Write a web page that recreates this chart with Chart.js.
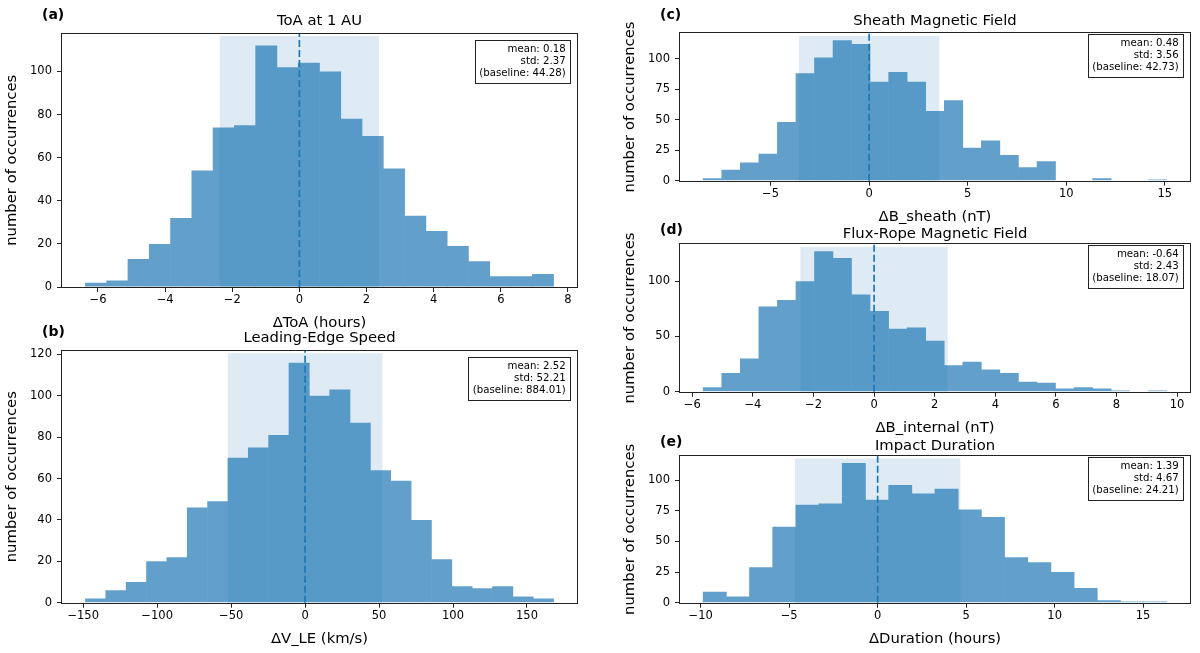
<!DOCTYPE html>
<html>
<head>
<meta charset="utf-8">
<script src="https://cdn.jsdelivr.net/npm/chart.js@4.4.1/dist/chart.umd.min.js"></script>
<style>
html,body{margin:0;padding:0;background:#fff;overflow:hidden;}
body{width:1200px;height:653px;position:relative;font-family:"DejaVu Sans",sans-serif;}
.lbl{position:absolute;font:bold 14px "DejaVu Sans",sans-serif;line-height:16px;color:#000;white-space:nowrap;}
</style>
</head>
<body>
<script>
// ---------- data ----------
// (a) ToA at 1 AU
const toaEdges = [-6.375,-5.741,-5.107,-4.473,-3.839,-3.205,-2.571,-1.937,-1.303,-0.669,-0.035,0.599,1.233,1.867,2.501,3.135,3.769,4.403,5.037,5.671,6.305,6.939,7.573];
const toaCounts = [2,3,13,20,32,54,74,75,112,102,104,100,78,70,55,33,26,19,12,5,5,6];
const toaXTicks = [-6,-4,-2,0,2,4,6,8];
const toaYTicks = [0,20,40,60,80,100];
const toaStd = 2.37;
const toaStats = ['mean: 0.18','std: 2.37','(baseline: 44.28)'];

// (b) Leading-Edge Speed
const speedEdges = [-148.5,-134.74,-120.98,-107.22,-93.46,-79.7,-65.94,-52.18,-38.42,-24.66,-10.9,2.86,16.62,30.38,44.14,57.9,71.66,85.42,99.18,112.94,126.7,140.46,154.22,167.98];
const speedCounts = [2,6,10,20,22,46,49,70,75,81,116,100,103,87,64,59,40,21,8,7,8,3,2];
const speedXTicks = [-150,-100,-50,0,50,100,150];
const speedYTicks = [0,20,40,60,80,100,120];
const speedStd = 52.21;
const speedStats = ['mean: 2.52','std: 52.21','(baseline: 884.01)'];

// (c) Sheath Magnetic Field
const sheathEdges = [-8.42,-7.479,-6.538,-5.597,-4.656,-3.715,-2.774,-1.833,-0.892,0.049,0.99,1.931,2.872,3.813,4.754,5.695,6.636,7.577,8.518,9.459,10.4,11.341,12.282,13.223,14.164,15.105];
const sheathCounts = [2,9,15,22,48,88,101,115,112,81,89,81,57,66,27,33,21,11,16,0,0,2,0,0,1];
const sheathXTicks = [-5,0,5,10,15];
const sheathYTicks = [0,25,50,75,100];
const sheathStd = 3.56;
const sheathStats = ['mean: 0.48','std: 3.56','(baseline: 42.73)'];

// (d) Flux-Rope Magnetic Field
const fluxEdges = [-5.64,-5.028,-4.416,-3.804,-3.192,-2.58,-1.968,-1.356,-0.744,-0.132,0.48,1.092,1.704,2.316,2.928,3.54,4.152,4.764,5.376,5.988,6.6,7.212,7.824,8.436,9.048,9.66];
const fluxCounts = [4,17,30,77,83,100,127,121,88,73,57,58,46,24,27,20,17,9,8,3,4,3,1,0,1];
const fluxXTicks = [-6,-4,-2,0,2,4,6,8,10];
const fluxYTicks = [0,50,100];
const fluxStd = 2.43;
const fluxStats = ['mean: -0.64','std: 2.43','(baseline: 18.07)'];

// (e) Impact Duration
const durEdges = [-9.86,-8.55,-7.24,-5.93,-4.62,-3.31,-2.0,-0.69,0.62,1.93,3.24,4.55,5.86,7.17,8.48,9.79,11.1,12.41,13.72,15.03,16.34];
const durCounts = [9,5,29,62,80,81,114,84,96,89,93,76,70,37,33,25,12,2,1,1];
const durXTicks = [-10,-5,0,5,10,15];
const durYTicks = [0,25,50,75,100];
const durStd = 4.67;
const durStats = ['mean: 1.39','std: 4.67','(baseline: 24.21)'];

// ---------- layout / style ----------
const FONT = '"DejaVu Sans", sans-serif';
const LBL = 14.8, LH = LBL * 1.2;
const YW = 62, XH = 48.9, RP = 8;
const BAR = '#62a0cb';
const SPAN = 'rgba(31,119,180,0.15)';
const LINE = '#1f77b4';
const AXC = '#222';

const panels = [
  {letter:'(a)', L:62,  T:33.5,  R:577,  B:287,   tg:12.5, lg:19.5, title:'ToA at 1 AU', xlabel:'ΔToA (hours)', edges:toaEdges, counts:toaCounts, xTicks:toaXTicks, yTicks:toaYTicks, std:toaStd, stats:toaStats},
  {letter:'(b)', L:62,  T:350.7, R:577,  B:602.7, tg:12.6, lg:19.7, title:'Leading-Edge Speed', xlabel:'ΔV_LE (km/s)', edges:speedEdges, counts:speedCounts, xTicks:speedXTicks, yTicks:speedYTicks, std:speedStd, stats:speedStats},
  {letter:'(c)', L:680, T:33.3,  R:1190, B:180.7, tg:12.3, lg:19.3, title:'Sheath Magnetic Field', xlabel:'ΔB_sheath (nT)', edges:sheathEdges, counts:sheathCounts, xTicks:sheathXTicks, yTicks:sheathYTicks, std:sheathStd, stats:sheathStats},
  {letter:'(d)', L:680, T:244.3, R:1190, B:391.7, tg:10.5, lg:15.5, title:'Flux-Rope Magnetic Field', xlabel:'ΔB_internal (nT)', edges:fluxEdges, counts:fluxCounts, xTicks:fluxXTicks, yTicks:fluxYTicks, std:fluxStd, stats:fluxStats},
  {letter:'(e)', L:680, T:456,   R:1190, B:602.7, tg:10.3, lg:14.8, title:'Impact Duration', xlabel:'ΔDuration (hours)', edges:durEdges, counts:durCounts, xTicks:durXTicks, yTicks:durYTicks, std:durStd, stats:durStats}
];

const fmt = v => (v < 0 ? '\u2212' + Math.abs(v) : String(v));

function buildPanel(p) {
  const n = p.edges.length;
  const range = p.edges[n-1] - p.edges[0];
  const xMin = p.edges[0] - 0.05*range;
  const xMax = p.edges[n-1] + 0.05*range;
  const yMax = Math.max(...p.counts) * 1.05;

  const tPadB = p.tg - LH/2;
  const TH = LH + tPadB;
  const cLeft = p.L - YW;
  const topF = p.T - TH;
  const cTop = Math.floor(topF);
  const padTop = topF - cTop;
  const contentH = padTop + TH + (p.B - p.T) + XH;
  const cH = Math.ceil(contentH);
  const padBottom = cH - contentH;
  const cW = YW + (p.R - p.L) + RP;

  const cv = document.createElement('canvas');
  cv.width = cW; cv.height = cH;
  cv.style.cssText = 'position:absolute;left:'+cLeft+'px;top:'+cTop+'px;width:'+cW+'px;height:'+cH+'px;';
  document.body.appendChild(cv);

  const lab = document.createElement('div');
  lab.className = 'lbl';
  lab.textContent = p.letter;
  lab.style.left = (p.L - 20) + 'px';
  lab.style.top = (p.T - p.lg - 8) + 'px';
  document.body.appendChild(lab);

  const decor = {
    id: 'decor',
    afterDatasetsDraw(chart) {
      const ctx = chart.ctx, ca = chart.chartArea, xs = chart.scales.x;
      ctx.save();
      // ±std span
      const x1 = xs.getPixelForValue(-p.std), x2 = xs.getPixelForValue(p.std);
      ctx.fillStyle = SPAN;
      ctx.fillRect(x1, ca.top + 2.5, x2 - x1, ca.bottom - ca.top - 2.5);
      // dashed zero line
      const x0 = xs.getPixelForValue(0);
      ctx.strokeStyle = LINE; ctx.lineWidth = 1.7; ctx.setLineDash([7,3]);
      ctx.beginPath(); ctx.moveTo(x0, ca.bottom); ctx.lineTo(x0, ca.top); ctx.stroke();
      ctx.setLineDash([]);
      // frame
      ctx.strokeStyle = AXC; ctx.lineWidth = 1;
      const fl = Math.round(ca.left) - 0.5, ft = Math.round(ca.top) - 0.5;
      const fr = Math.round(ca.right) + 0.5, fb = Math.round(ca.bottom) + 0.5;
      ctx.strokeRect(fl, ft, fr - fl, fb - ft);
      // stats box
      const W = ca.right - ca.left, H = ca.bottom - ca.top;
      ctx.font = '10.2px ' + FONT;
      const tr = ca.right - 0.02*W - 1;
      const tt = ca.top + 0.05*H - 2;
      let mw = 0;
      p.stats.forEach(s => { mw = Math.max(mw, ctx.measureText(s).width); });
      const pad = 4.5, lgap = 12;
      const bx = Math.round(tr - mw - pad) + 0.5, by = Math.round(tt - pad) + 0.5;
      const bw = Math.round(mw + 2*pad), bh = Math.round(pad + 7.7 + 2*lgap + 2.4 + pad);
      ctx.fillStyle = '#fff'; ctx.fillRect(bx, by, bw, bh);
      ctx.strokeStyle = '#222'; ctx.lineWidth = 1; ctx.strokeRect(bx, by, bw, bh);
      ctx.fillStyle = '#000'; ctx.textAlign = 'right'; ctx.textBaseline = 'alphabetic';
      p.stats.forEach((s, i) => ctx.fillText(s, tr, tt + 7.7 + i*lgap));
      ctx.restore();
    }
  };

  new Chart(cv, {
    type: 'bar',
    data: {
      datasets: [{
        data: p.counts.map((c, i) => ({x: (p.edges[i] + p.edges[i+1]) / 2, y: c})),
        backgroundColor: BAR,
        borderWidth: 0,
        barPercentage: 1.03,
        categoryPercentage: 1,
        grouped: false
      }]
    },
    options: {
      responsive: false,
      animation: false,
      devicePixelRatio: 1,
      events: [],
      layout: {padding: {left: 0, right: RP, top: padTop, bottom: padBottom}},
      plugins: {
        legend: {display: false},
        tooltip: {enabled: false},
        title: {display: true, fullSize: false, text: p.title, color: '#000', font: {family: FONT, size: LBL, weight: 'normal'}, padding: {top: 0, bottom: tPadB}}
      },
      scales: {
        x: {
          type: 'linear', min: xMin, max: xMax, offset: false,
          afterFit(s) { s.height = XH; },
          afterBuildTicks(s) { s.ticks = p.xTicks.map(v => ({value: v})); },
          ticks: {color: '#000', font: {family: FONT, size: 11.5}, padding: 1.5, maxRotation: 0, autoSkip: false, callback: v => fmt(v)},
          grid: {display: true, offset: false, drawOnChartArea: false, drawTicks: true, tickLength: 5, tickWidth: 1, tickColor: AXC},
          border: {display: false},
          title: {display: true, text: p.xlabel, color: '#000', font: {family: FONT, size: LBL}, padding: {top: 0, bottom: 4}}
        },
        y: {
          type: 'linear', min: 0, max: yMax,
          afterFit(s) { s.width = YW; },
          afterBuildTicks(s) { s.ticks = p.yTicks.map(v => ({value: v})); },
          ticks: {color: '#000', font: {family: FONT, size: 11.5}, padding: 5, autoSkip: false, callback: v => fmt(v)},
          grid: {display: true, drawOnChartArea: false, drawTicks: true, tickLength: 5, tickWidth: 1, tickColor: AXC},
          border: {display: false},
          title: {display: true, text: 'number of occurrences', color: '#000', font: {family: FONT, size: LBL}, padding: {top: 12 - LH/2, bottom: 0}}
        }
      }
    },
    plugins: [decor]
  });
}

panels.forEach(buildPanel);
</script>
</body>
</html>
